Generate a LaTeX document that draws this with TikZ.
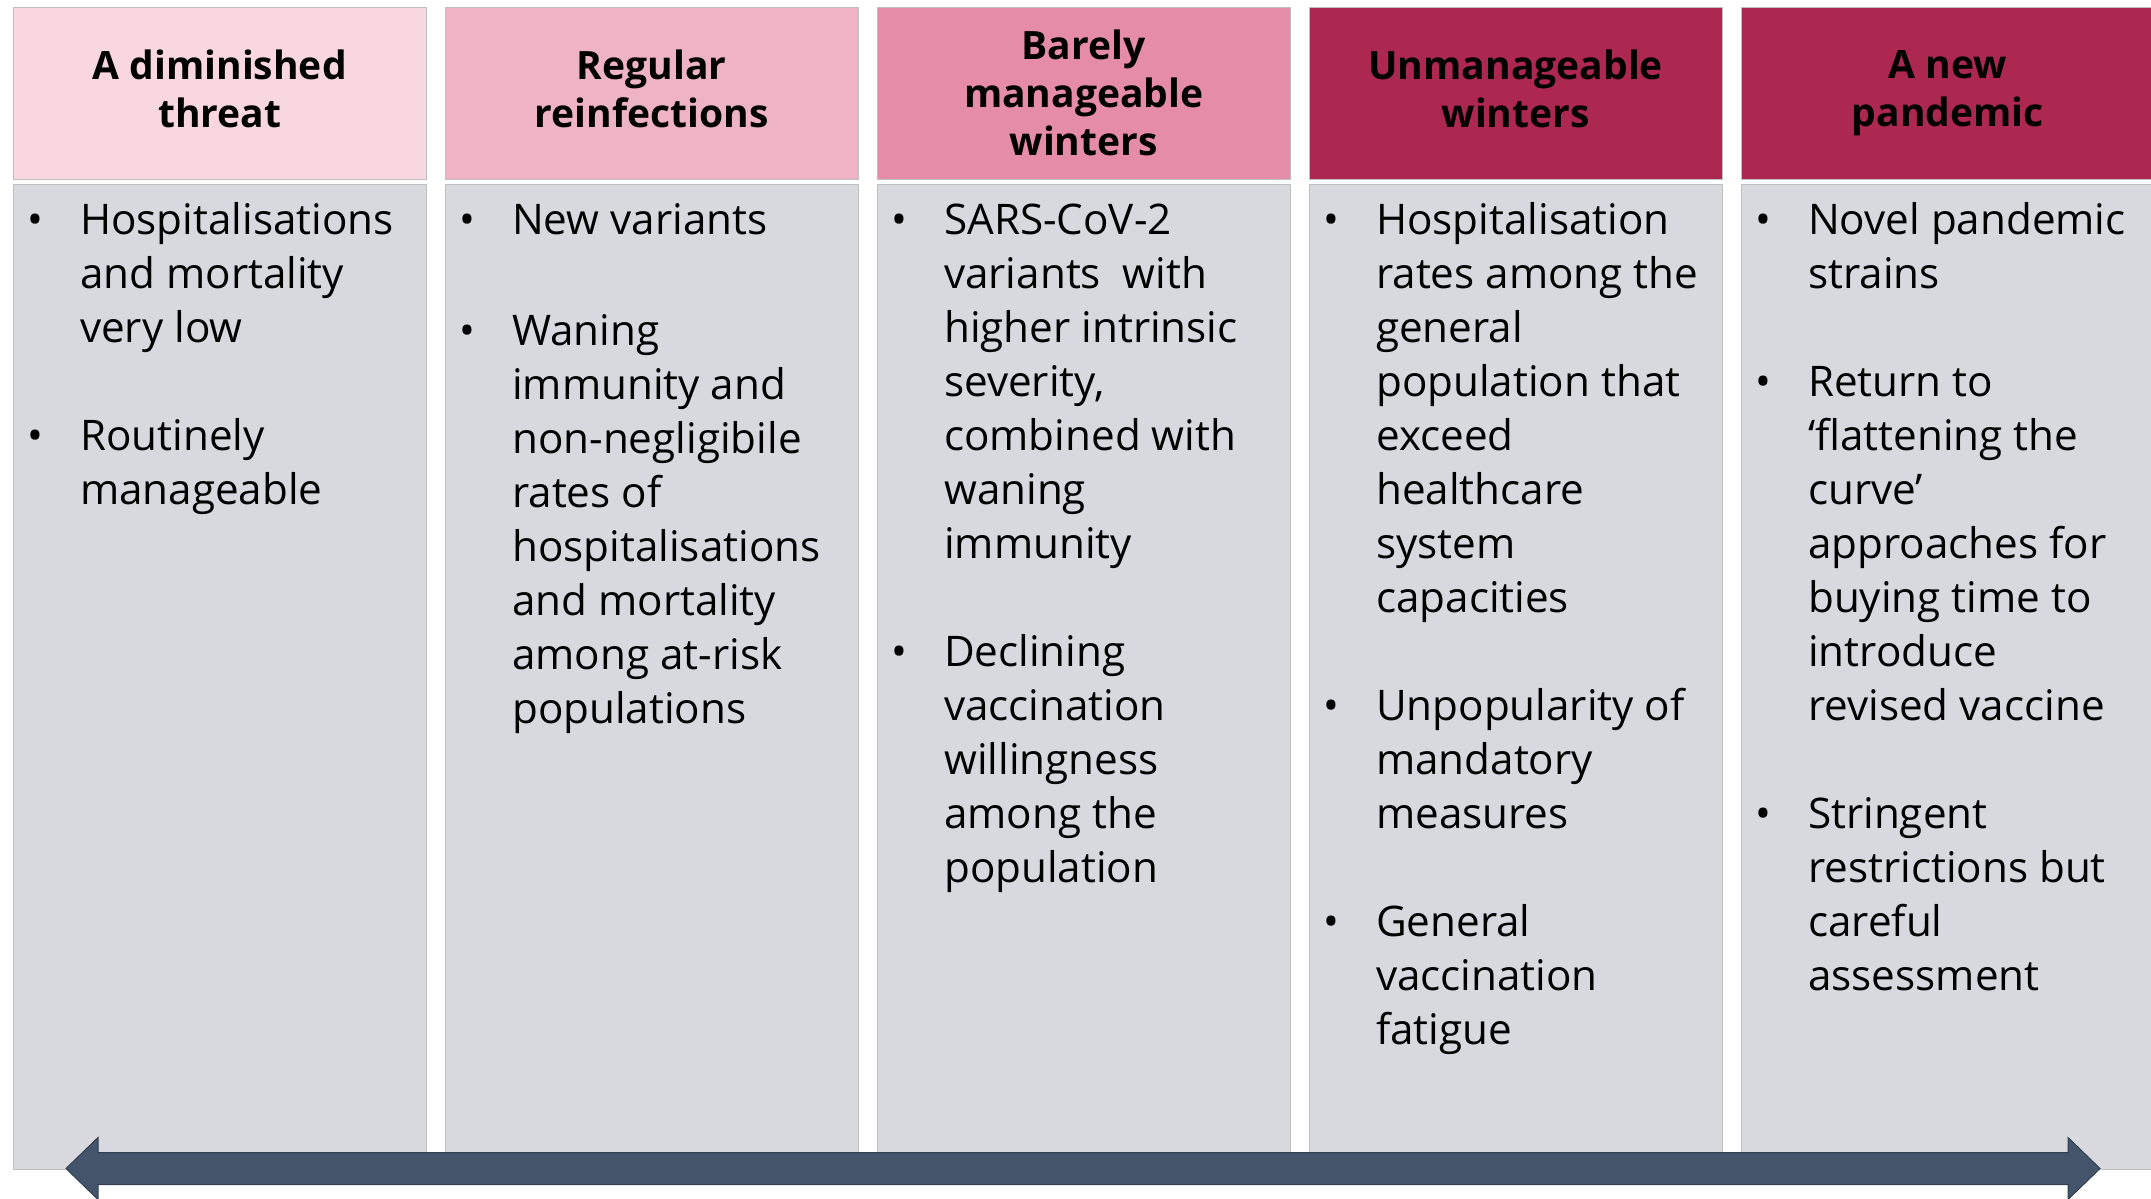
\documentclass[tikz,border=0pt]{standalone}
\usepackage{fontspec}
\setmainfont{Open Sans}
\usetikzlibrary{matrix}
\definecolor{paleRose}{HTML}{F8D7E1}
\definecolor{softRose}{HTML}{EEB3C4}
\definecolor{deepRose}{HTML}{E58DA8}
\definecolor{wine}{HTML}{AD2851}
\definecolor{panelGray}{HTML}{D8D9DE}
\definecolor{edgeGray}{HTML}{BFBFBF}
\definecolor{slateBlue}{HTML}{44546A}
\begin{document}
\begin{tikzpicture}
    \newcommand{\hd}[2][0pt]{\parbox{4.13cm}{\centering #2\par\vspace{#1}}}
    \newcommand{\bul}[1]{\par\hangindent=0.67cm\hangafter=1\noindent
        \hspace*{0.14cm}\makebox[0.53cm][l]{\rule[-0.14cm]{0pt}{0.54cm}\textbullet}#1\par}
    \newcommand{\gap}{\vspace{0.54cm}}
    \newcommand{\bd}[1]{\parbox[t][9.85cm][t]{4.13cm}{\vspace*{0.1cm}#1}}
  \useasboundingbox[fill=white] (0,0) rectangle (21.51,-11.98);
  \matrix (m) [
  matrix of nodes, inner sep=0pt, anchor=north west,
  column sep=0.18cm, row sep=0.04cm,
  nodes={draw=edgeGray, line width=0.01cm, inner sep=0pt, outer sep=0pt,
         anchor=center, minimum width=4.13cm},
  row 1/.style={nodes={minimum height=1.72cm,
         font=\fontsize{11.1}{13.7}\selectfont\bfseries}},
  row 2/.style={nodes={fill=panelGray, font=\fontsize{12}{15.36}\selectfont}}
] at (0.12,-0.06)
  {
    |[fill=paleRose]|\hd[0.08cm]{A diminished\\threat}
    &|[fill=softRose]|\hd[0.08cm]{Regular\\reinfections}
    &|[fill=deepRose]|\hd{Barely\\manageable\\winters}
    &|[fill=wine]|\hd[0.08cm]{Unmanageable\\winters}
    &|[fill=wine]|\hd{A new\\pandemic} \\
    \bd{\bul{Hospitalisations\\and mortality\\very low}\gap
        \bul{Routinely\\manageable}}
    &\bd{\bul{New variants}\gap
        \bul{Waning\\immunity and\\non-negligibile\\rates of\\hospitalisations\\and mortality\\among at-risk\\populations}}
    &\bd{\bul{SARS-CoV-2\\variants\ \ with\\higher intrinsic\\severity,\\combined with\\waning\\immunity}\gap
        \bul{Declining\\vaccination\\willingness\\among the\\population}}
    &\bd{\bul{Hospitalisation\\rates among the\\general\\population that\\exceed\\healthcare\\system\\capacities}\gap
        \bul{Unpopularity of\\mandatory\\measures}\gap
        \bul{General\\vaccination\\fatigue}}
    &\bd{\bul{Novel pandemic\\strains}\gap
        \bul{Return to\\‘flattening the\\curve’\\approaches for\\buying time to\\introduce\\revised vaccine}\gap
        \bul{Stringent\\restrictions but\\careful\\assessment}} \\
  };

% timeline band across the bottom
\coordinate (past) at (0.66,-11.685);
\coordinate (future) at (21.00,-11.685);
\filldraw[fill=slateBlue, draw=slateBlue!75!black, line width=0.01cm]
  (past) -- ++(0.32,0.31) -- ++(0,-0.15) -- ++(19.70,0) -- ++(0,0.15)
  -- (future) -- ++(-0.32,-0.31) -- ++(0,0.15) -- ++(-19.70,0) -- ++(0,-0.15) -- cycle;
\end{tikzpicture}
\end{document}
